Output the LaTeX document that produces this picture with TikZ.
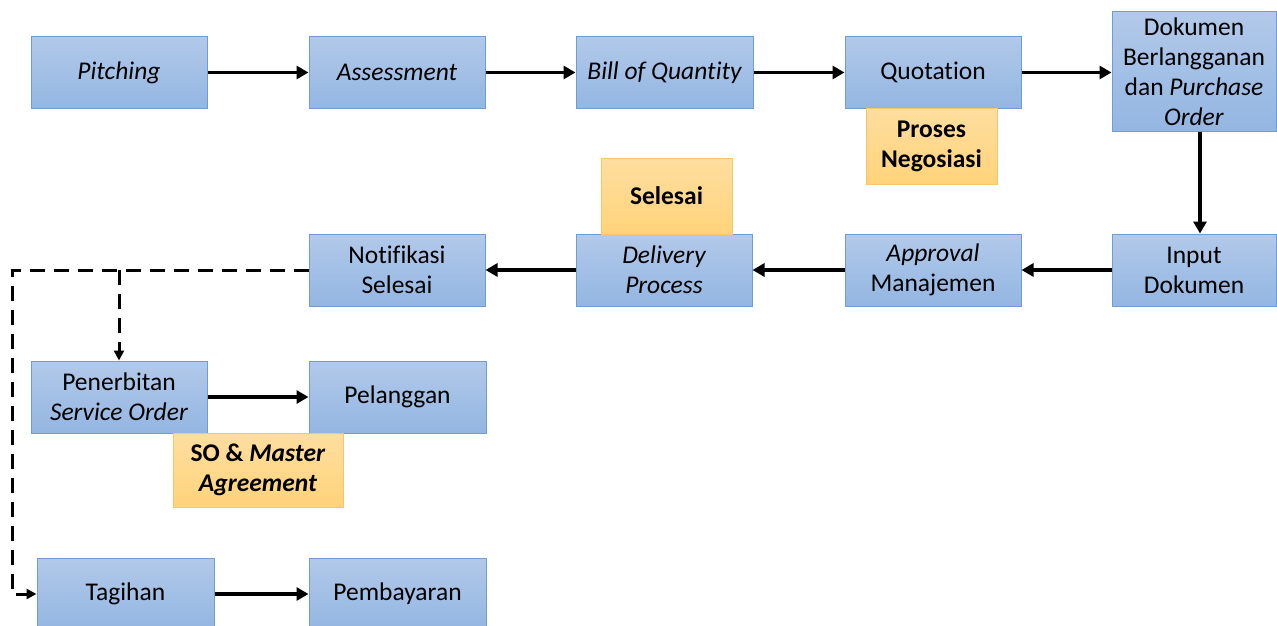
\documentclass[tikz,border=0pt]{standalone}
\usepackage{fontspec}
\setmainfont[Ligatures={NoCommon}]{Carlito}
\usetikzlibrary{arrows.meta}
\definecolor{bluetop}{RGB}{178,201,233}
\definecolor{bluebot}{RGB}{147,182,226}
\definecolor{blueline}{RGB}{112,155,212}
\definecolor{orgtop}{RGB}{254,222,160}
\definecolor{orgbot}{RGB}{255,211,122}
\definecolor{orgline}{RGB}{246,198,104}
\tikzset{
  box/.style={draw=blueline, line width=1pt, top color=bluetop, bottom color=bluebot,
    minimum width=176pt, minimum height=72pt, inner sep=0pt, align=center,
    font=\fontsize{25.5}{30}\selectfont},
  note/.style={draw=orgline, line width=1pt, top color=orgtop, bottom color=orgbot,
    minimum width=131pt, minimum height=76pt, inner sep=0pt, align=center,
    font=\fontsize{25.5}{30}\selectfont\bfseries},
  flow/.style={line width=3.5pt, -{Triangle[length=12pt,width=13pt]}},
  dflow/.style={line width=3pt, dash pattern=on 15pt off 9pt, -{Triangle[length=10pt,width=10pt]}}
}
\begin{document}
\begin{tikzpicture}[x=1pt,y=-1pt]
\useasboundingbox (0,0) rectangle (1277,626);
% row 1
\node[box] (pitch) at (119,72.5) {\itshape Pitching};
\node[box] (assess) at (397,72.5) {\itshape Assessment};
\node[box, minimum width=177pt] (boq) at (664.5,72.5) {\itshape Bill of Quantity};
\node[box] (quot) at (933,72.5) {Quotation};
\node[box, minimum width=164pt, minimum height=119pt] (dok) at (1194,71.5) {Dokumen\\Berlangganan\\dan \textit{Purchase}\\\textit{Order}};
\node[note] (nego) at (931.5,146) {Proses\\Negosiasi};
% row 2
\node[box] (notif) at (397,270) {Notifikasi\\Selesai};
\node[box] (deliv) at (664,270) {\itshape Delivery\\\itshape Process};
\node[box] (appr) at (933,270) {\textit{Approval}\\Manajemen};
\node[box, minimum width=164pt] (input) at (1194,270) {Input\\Dokumen};
\node[note] (selesai) at (666.5,196) {Selesai};
% row 3
\node[box] (pener) at (119,397) {Penerbitan\\\textit{Service Order}};
\node[box, minimum width=177pt] (pelang) at (397.5,397) {Pelanggan};
\node[note, minimum width=170pt, minimum height=74pt] (so) at (258,470) {SO \& \textit{Master}\\\textit{Agreement}};
% row 4
\node[box, minimum width=177pt] (tagih) at (125.5,594) {Tagihan};
\node[box, minimum width=177pt] (pemb) at (397.5,594) {Pembayaran};
% arrows
\draw[flow] (pitch) -- (assess);
\draw[flow] (assess) -- (boq);
\draw[flow] (boq) -- (quot);
\draw[flow] (quot.east) -- (dok.west |- quot.east);
\draw[flow] ([xshift=6pt]dok.south) -- ([xshift=6pt]input.north);
\draw[flow] (input) -- (appr);
\draw[flow] (appr) -- (deliv);
\draw[flow] (deliv) -- (notif);
\draw[flow] (pener) -- (pelang);
\draw[flow] (tagih) -- (pemb);
% dashed
\coordinate (corner) at (12,270);
\coordinate (branch) at (119,270);
\draw[dflow] (notif.west) -- (corner) |- (tagih.west);
\draw[dflow] (branch) -- (pener.north);
\end{tikzpicture}
\end{document}
